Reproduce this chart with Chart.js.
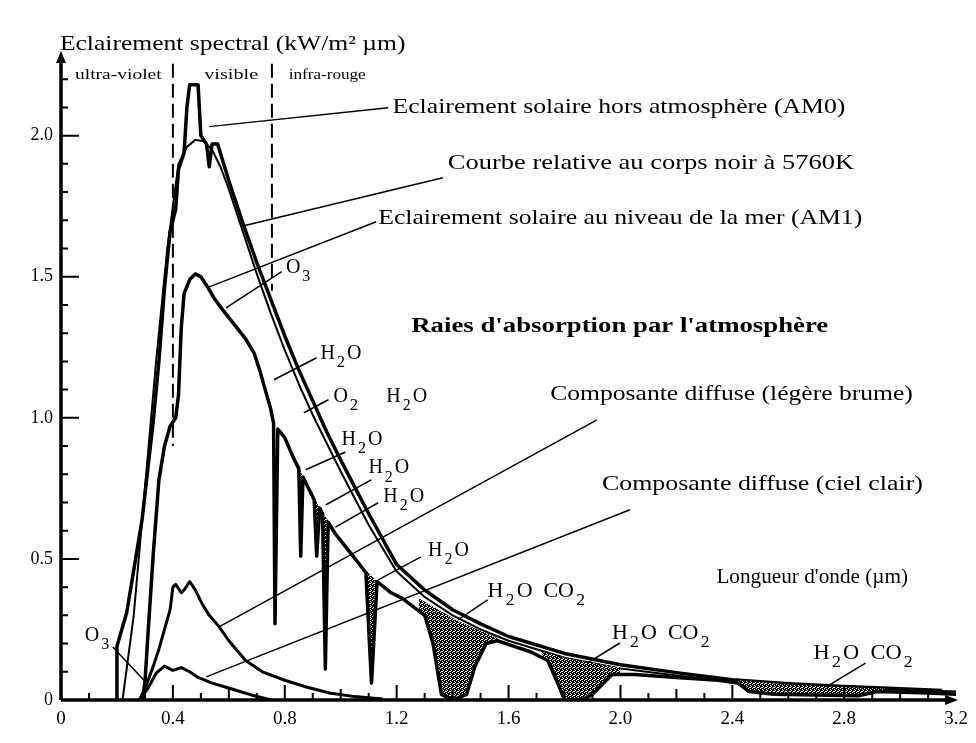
<!DOCTYPE html>
<html>
<head>
<meta charset="utf-8">
<script src="https://cdn.jsdelivr.net/npm/chart.js@4.4.1/dist/chart.umd.min.js"></script>
<style>
  html, body { margin: 0; padding: 0; background: #fff; }
  #canvasContainer { width: 976px; height: 743px; }
</style>
</head>
<body>
<div id="canvasContainer"><canvas id="canvas" width="976" height="743"></canvas></div>
<script>
// Data (wavelength in µm, irradiance in kW/m² µm)

// Eclairement solaire hors atmosphère (AM0)
const wlAM0 = [0.20, 0.20, 0.235, 0.29, 0.33, 0.35, 0.37, 0.39, 0.41, 0.42, 0.44, 0.45, 0.46, 0.49, 0.50, 0.52, 0.53, 0.54, 0.56, 0.60, 0.65, 0.70, 0.75, 0.80, 0.85, 0.90, 0.95, 1.00, 1.10, 1.20, 1.30, 1.40, 1.50, 1.60, 1.80, 2.00, 2.20, 2.40, 2.60, 2.80, 3.00, 3.15];
const valAM0 = [0, 0.19, 0.31, 0.64, 0.99, 1.20, 1.46, 1.66, 1.74, 1.88, 1.94, 2.10, 2.18, 2.18, 2.00, 1.97, 1.89, 1.97, 1.97, 1.84, 1.69, 1.55, 1.42, 1.29, 1.17, 1.06, 0.95, 0.85, 0.66, 0.48, 0.39, 0.32, 0.27, 0.225, 0.165, 0.125, 0.097, 0.072, 0.058, 0.048, 0.040, 0.034];

// Courbe relative au corps noir à 5760K
const wlBB = [0.22, 0.26, 0.30, 0.34, 0.38, 0.42, 0.45, 0.48, 0.51, 0.54, 0.57, 0.60, 0.65, 0.70, 0.75, 0.80, 0.85, 0.90, 0.95, 1.00, 1.10, 1.20, 1.30, 1.40, 1.50, 1.60, 1.80, 2.00, 2.20, 2.40, 2.60, 2.80, 3.00, 3.20];
const valBB = [0, 0.30, 0.75, 1.20, 1.60, 1.90, 1.96, 1.985, 1.98, 1.95, 1.89, 1.81, 1.66, 1.51, 1.37, 1.24, 1.12, 1.01, 0.91, 0.81, 0.62, 0.455, 0.365, 0.30, 0.25, 0.21, 0.15, 0.112, 0.087, 0.066, 0.053, 0.044, 0.036, 0.030];

// Eclairement solaire au niveau de la mer (AM1)
const wlAM1 = [0.29, 0.30, 0.31, 0.33, 0.35, 0.37, 0.39, 0.41, 0.42, 0.43, 0.44, 0.46, 0.48, 0.50, 0.52, 0.55, 0.58, 0.62, 0.66, 0.69, 0.71, 0.73, 0.75, 0.76, 0.765, 0.775, 0.80, 0.83, 0.85, 0.857, 0.865, 0.89, 0.905, 0.914, 0.925, 0.935, 0.945, 0.955, 0.98, 1.02, 1.06, 1.09, 1.11, 1.13, 1.18, 1.22, 1.26, 1.30, 1.33, 1.36, 1.40, 1.45, 1.48, 1.52, 1.56, 1.62, 1.68, 1.74, 1.78, 1.80, 1.86, 1.90, 1.94, 1.97, 2.05, 2.20, 2.35, 2.42, 2.46, 2.55, 2.85, 2.92, 3.10, 3.20];
const valAM1 = [0, 0.06, 0.22, 0.52, 0.78, 0.90, 0.97, 1.00, 1.08, 1.32, 1.44, 1.49, 1.51, 1.50, 1.47, 1.42, 1.38, 1.33, 1.28, 1.23, 1.17, 1.10, 1.03, 0.98, 0.27, 0.96, 0.93, 0.86, 0.82, 0.51, 0.79, 0.74, 0.71, 0.51, 0.68, 0.66, 0.11, 0.63, 0.59, 0.54, 0.49, 0.45, 0.06, 0.42, 0.38, 0.36, 0.33, 0.30, 0.20, 0.02, 0, 0.02, 0.12, 0.20, 0.21, 0.19, 0.17, 0.14, 0.05, 0, 0, 0.02, 0.06, 0.09, 0.09, 0.08, 0.07, 0.06, 0.03, 0.02, 0.015, 0.03, 0.025, 0.02];

// upper edge of the shaded absorption bands (null separates bands)
const wlBand = [0.84, 0.87, 0.90, 0.93, 0.96, null, 1.08, 1.14, null, 1.28, 1.35, 1.42, 1.50, 1.56, null, 1.72, 1.80, 1.90, 2.00, null, 2.42, 2.60, 2.80, 2.95];
const valBand = [0.85, 0.78, 0.73, 0.67, 0.63, null, 0.47, 0.41, null, 0.36, 0.32, 0.28, 0.245, 0.22, null, 0.17, 0.15, 0.13, 0.115, null, 0.07, 0.055, 0.045, 0.04];

// Composante diffuse (légère brume)
const wlHaze = [0.28, 0.30, 0.33, 0.35, 0.37, 0.39, 0.40, 0.41, 0.43, 0.44, 0.46, 0.48, 0.505, 0.53, 0.565, 0.60, 0.66, 0.72, 0.80, 0.88, 0.96, 1.05, 1.15];
const valHaze = [0, 0.04, 0.12, 0.18, 0.25, 0.32, 0.40, 0.41, 0.38, 0.39, 0.42, 0.39, 0.34, 0.30, 0.26, 0.21, 0.14, 0.10, 0.07, 0.045, 0.025, 0.012, 0.004];

// Composante diffuse (ciel clair)
const wlClear = [0.28, 0.31, 0.34, 0.37, 0.40, 0.43, 0.46, 0.49, 0.54, 0.59, 0.64, 0.68, 0.72, 0.75];
const valClear = [0, 0.04, 0.095, 0.12, 0.105, 0.115, 0.10, 0.08, 0.06, 0.045, 0.03, 0.018, 0.008, 0];

// axis ticks
const xTickValues = [0, 0.4, 0.8, 1.2, 1.6, 2.0, 2.4, 2.8, 3.2];
const xTickLabels = ["0", "0.4", "0.8", "1.2", "1.6", "2.0", "2.4", "2.8", "3.2"];
const yTickValues = [0, 0.5, 1.0, 1.5, 2.0];
const yTickLabels = ["0", "0.5", "1.0", "1.5", "2.0"];

// spectral domain limits (dashed lines)
const domainLimits = [0.4, 0.754];
const domainLimitBottoms = [0.9, 1.45];

// texts, anchored in data units (left, baseline, width in µm); _n = subscript
const notes = [
  { t: "Eclairement spectral (kW/m² µm)", x: -0.004, y: 2.305, s: 21, w: 1.244 },
  { t: "ultra-violet", x: 0.05, y: 2.2, s: 14, w: 0.32 },
  { t: "visible", x: 0.512, y: 2.2, s: 14, w: 0.203 },
  { t: "infra-rouge", x: 0.814, y: 2.2, s: 14, w: 0.284 },
  { t: "Eclairement solaire hors atmosphère (AM0)", x: 1.185, y: 2.08, s: 21, w: 1.628 },
  { t: "Courbe relative au corps noir à 5760K", x: 1.383, y: 1.883, s: 21, w: 1.461 },
  { t: "Eclairement solaire au niveau de la mer (AM1)", x: 1.134, y: 1.688, s: 21, w: 1.739 },
  { t: "O_3", x: 0.804, y: 1.515, s: 20 },
  { t: "Raies d'absorption par l'atmosphère", x: 1.252, y: 1.305, s: 21, b: true, w: 1.5 },
  { t: "H_2O", x: 0.928, y: 1.21, s: 20 },
  { t: "O_2", x: 0.974, y: 1.057, s: 20 },
  { t: "H_2O", x: 1.163, y: 1.057, s: 20 },
  { t: "H_2O", x: 1.003, y: 0.904, s: 20 },
  { t: "H_2O", x: 1.099, y: 0.804, s: 20 },
  { t: "H_2O", x: 1.152, y: 0.703, s: 20 },
  { t: "H_2O", x: 1.312, y: 0.511, s: 20 },
  { t: "H_2O  CO_2", x: 1.525, y: 0.366, s: 20, w: 0.356 },
  { t: "H_2O  CO_2", x: 1.97, y: 0.217, s: 20, w: 0.356 },
  { t: "H_2O  CO_2", x: 2.69, y: 0.146, s: 20, w: 0.363 },
  { t: "Composante diffuse (légère brume)", x: 1.749, y: 1.064, s: 21, w: 1.305 },
  { t: "Composante diffuse (ciel clair)", x: 1.934, y: 0.745, s: 21, w: 1.156 },
  { t: "Longueur d'onde (µm)", x: 2.343, y: 0.415, s: 20, w: 0.693 },
  { t: "O_3", x: 0.085, y: 0.21, s: 20 }
];

// leader lines [x1, y1, x2, y2] in data units
const leaders = [
  [0.53, 2.032, 1.17, 2.099],
  [0.654, 1.681, 1.365, 1.851],
  [0.53, 1.464, 1.127, 1.695],
  [0.59, 1.39, 0.789, 1.518],
  [0.761, 1.135, 0.914, 1.213],
  [0.868, 1.018, 0.956, 1.064],
  [0.875, 0.816, 1.017, 0.879],
  [0.946, 0.691, 1.109, 0.78],
  [0.981, 0.613, 1.134, 0.699],
  [1.134, 0.426, 1.287, 0.507],
  [1.419, 0.284, 1.525, 0.355],
  [1.881, 0.131, 1.998, 0.202],
  [2.734, 0.046, 2.876, 0.131],
  [0.565, 0.259, 1.916, 0.993],
  [0.519, 0.082, 2.034, 0.674],
  [0.185, 0.188, 0.306, 0.06]
];

const FONT = "'Liberation Serif', 'Times New Roman', serif";

function toPoints(xs, ys) {
  return xs.map((x, i) => (x === null ? { x: NaN, y: null } : { x: x, y: ys[i] }));
}

function stipple(ctx) {
  const c = document.createElement("canvas");
  c.width = 4; c.height = 4;
  const g = c.getContext("2d");
  g.fillStyle = "#000";
  g.fillRect(0, 0, 4, 4);
  g.fillStyle = "#fff";
  [[0, 0], [2, 1], [1, 3], [3, 2], [2, 3]].forEach(p => g.fillRect(p[0], p[1], 1, 1));
  return ctx.createPattern(c, "repeat");
}

// text with subscripts, optionally stretched to a given pixel width
function drawRich(ctx, str, x, y, size, bold, widthPx) {
  const w = bold ? "bold " : "";
  const parts = str.split(/(_\d)/).filter(p => p);
  const big = w + size + "px " + FONT;
  const small = w + Math.round(size * 0.8) + "px " + FONT;
  let natural = 0;
  parts.forEach(p => {
    ctx.font = p[0] === "_" ? small : big;
    natural += ctx.measureText(p[0] === "_" ? p[1] : p).width + 2;
  });
  const k = widthPx ? widthPx / natural : 1;
  ctx.save();
  ctx.translate(x, y);
  ctx.scale(k, 1);
  let cx = 0;
  parts.forEach(p => {
    if (p[0] === "_") {
      ctx.font = small;
      ctx.fillText(p[1], cx, size * 0.42);
      cx += ctx.measureText(p[1]).width + 2;
    } else {
      ctx.font = big;
      ctx.fillText(p, cx, 0);
      cx += ctx.measureText(p).width + 2;
    }
  });
  ctx.restore();
}

// axes with inward ticks and arrows, dashed limits, texts and leaders
const decorations = {
  id: "decorations",
  afterDatasetsDraw(chart) {
    const ctx = chart.ctx;
    const xs = chart.scales.x, ys = chart.scales.y;
    const X = v => xs.getPixelForValue(v);
    const Y = v => ys.getPixelForValue(v);
    ctx.save();
    ctx.strokeStyle = "#000";
    ctx.fillStyle = "#000";
    ctx.lineCap = "butt";

    // dashed domain limits
    ctx.lineWidth = 2;
    ctx.setLineDash([14, 6]);
    domainLimits.forEach((v, i) => {
      ctx.beginPath();
      ctx.moveTo(X(v), Y(2.255));
      ctx.lineTo(X(v), Y(domainLimitBottoms[i]));
      ctx.stroke();
    });
    ctx.setLineDash([]);

    // axes
    const x0 = X(0), y0 = Y(0);
    ctx.lineWidth = 3.5;
    ctx.beginPath();
    ctx.moveTo(x0, y0);
    ctx.lineTo(x0, Y(2.28));
    ctx.moveTo(x0, y0);
    ctx.lineTo(X(3.19), y0);
    ctx.stroke();
    ctx.beginPath();
    ctx.moveTo(x0, Y(2.3));
    ctx.lineTo(x0 - 5, Y(2.3) + 12);
    ctx.lineTo(x0 + 5, Y(2.3) + 12);
    ctx.closePath();
    ctx.fill();
    ctx.beginPath();
    ctx.moveTo(X(3.2) + 2, y0);
    ctx.lineTo(X(3.2) - 11, y0 - 5);
    ctx.lineTo(X(3.2) - 11, y0 + 5);
    ctx.closePath();
    ctx.fill();

    // ticks
    ctx.lineWidth = 2;
    ctx.beginPath();
    for (let i = 1; i <= 22; i++) {
      const len = i % 5 === 0 ? 18 : 7;
      ctx.moveTo(x0, Y(i / 10));
      ctx.lineTo(x0 + len, Y(i / 10));
    }
    for (let i = 1; i <= 31; i++) {
      const len = i % 4 === 0 ? 15 : (i % 2 === 0 ? 11 : 7);
      ctx.moveTo(X(i / 10), y0);
      ctx.lineTo(X(i / 10), y0 - len);
    }
    ctx.stroke();

    // leaders
    ctx.lineWidth = 1.5;
    ctx.beginPath();
    leaders.forEach(l => {
      ctx.moveTo(X(l[0]), Y(l[1]));
      ctx.lineTo(X(l[2]), Y(l[3]));
    });
    ctx.stroke();

    // texts
    ctx.textBaseline = "alphabetic";
    ctx.textAlign = "left";
    notes.forEach(n => {
      const wpx = n.w ? X(n.x + n.w) - X(n.x) : 0;
      drawRich(ctx, n.t, X(n.x), Y(n.y), n.s, n.b, wpx);
    });
    ctx.restore();
  }
};

const canvasChart = document.getElementById("canvas").getContext("2d");

const lineStyle = { borderColor: "#000", pointRadius: 0, tension: 0, fill: false, borderJoinStyle: "round" };

const chart = new Chart(canvasChart, {
  type: "line",
  data: {
    datasets: [
      Object.assign({ label: "AM1", data: toPoints(wlAM1, valAM1), borderWidth: 3.5 }, lineStyle),
      { label: "bandes", data: toPoints(wlBand, valBand), borderWidth: 0, pointRadius: 0, tension: 0,
        borderColor: "rgba(0,0,0,0)", backgroundColor: stipple(canvasChart), fill: { target: 0 }, spanGaps: false },
      Object.assign({ label: "AM0", data: toPoints(wlAM0, valAM0), borderWidth: 3.5 }, lineStyle),
      Object.assign({ label: "Corps noir 5760K", data: toPoints(wlBB, valBB), borderWidth: 2 }, lineStyle),
      Object.assign({ label: "Diffuse brume", data: toPoints(wlHaze, valHaze), borderWidth: 3 }, lineStyle),
      Object.assign({ label: "Diffuse ciel clair", data: toPoints(wlClear, valClear), borderWidth: 3 }, lineStyle)
    ]
  },
  options: {
    responsive: false,
    animation: false,
    layout: { padding: { left: 0, right: 15, top: 51, bottom: 0 } },
    plugins: { legend: { display: false }, tooltip: { enabled: false } },
    scales: {
      x: {
        type: "linear", min: 0, max: 3.2,
        afterFit: s => { s.height = 43; },
        afterBuildTicks: s => { s.ticks = xTickValues.map(v => ({ value: v })); },
        border: { display: false },
        grid: { display: false, drawTicks: false },
        ticks: {
          color: "#000", padding: 8, maxRotation: 0, autoSkip: false,
          font: { family: FONT, size: 19 },
          callback: (v, i) => xTickLabels[i]
        }
      },
      y: {
        type: "linear", min: 0, max: 2.3,
        afterFit: s => { s.width = 61; },
        afterBuildTicks: s => { s.ticks = yTickValues.map(v => ({ value: v })); },
        border: { display: false },
        grid: { display: false, drawTicks: false },
        ticks: {
          color: "#000", padding: 8,
          font: { family: FONT, size: 18 },
          callback: (v, i) => yTickLabels[i]
        }
      }
    }
  },
  plugins: [decorations]
});
</script>
</body>
</html>
